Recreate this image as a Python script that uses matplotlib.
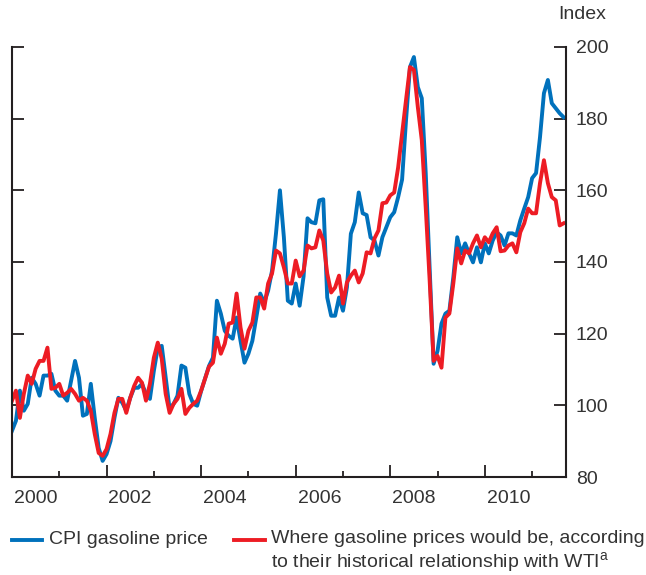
import matplotlib
matplotlib.use("Agg")
import matplotlib.pyplot as plt
from matplotlib.lines import Line2D
import numpy as np

plt.rcParams['font.family'] = ['Liberation Sans', 'DejaVu Sans']
plt.rcParams['mathtext.fontset'] = 'custom'
plt.rcParams['mathtext.rm'] = 'Liberation Sans'

# monthly index values, Jan 2000 .. Sep 2011
cpi_gasoline = [
    92.9, 95.7, 104.1, 98.5, 100.4, 107.7, 106, 102.7, 108.3, 108.3, 108.8, 104.1,
    102.7, 102.7, 101.3, 106.9, 112.4, 107.7, 97.1, 97.6, 106, 96.5, 88.1, 84.5,
    86.4, 90, 96.5, 102.1, 100.7, 98.5, 102.1, 104.9, 104.9, 106, 103.2, 101.8,
    109.6, 116.1, 116.6, 107.7, 99, 100.4, 102.7, 111.1, 110.5, 103.2, 100.4, 99.9,
    104, 107.5, 111, 113.3, 129.2, 125.6, 120.8, 119.4, 118.6, 124.5, 118, 111.9,
    114.4, 118, 124.5, 131.2, 128.7, 132, 137.6, 148, 160, 146.9, 129.2, 128.4,
    134, 127.8, 136, 152.2, 151.1, 150.8, 157.2, 157.5, 130.1, 125, 125, 130.1,
    126.4, 132.9, 147.9, 151.1, 159.4, 153.6, 153.1, 146.9, 146, 141.8, 146.9, 149.7,
    152.5, 153.9, 158.1, 163, 179.6, 194.4, 197.2, 188.8, 185.7, 164.8, 138.5, 111.6,
    115.2, 122.8, 125.6, 126.4, 135.7, 146.9, 142.4, 145.2, 142.4, 139.9, 144.1, 139.9,
    145.2, 142.4, 146, 148.3, 147.4, 144.6, 148, 148, 147.4, 151.6, 154.9, 158.1,
    163.4, 164.8, 174.8, 187.1, 190.8, 184.3, 182.9, 181.5, 180.4,
]
wti_implied = [
    101.3, 104.1, 96.5, 103.2, 108.3, 106, 110.2, 112.4, 112.4, 116.1, 104.6, 104.9,
    106, 102.7, 103.5, 104.6, 103.2, 101.3, 102.1, 101.3, 98.5, 92, 86.7, 85.9,
    87.8, 92, 97.9, 101.8, 101.8, 97.9, 102.1, 105.4, 107.7, 106.3, 101.3, 106,
    113.3, 117.5, 113, 103.2, 97.9, 100.4, 101.8, 104.6, 97.6, 99.3, 100.4, 101.3,
    104.1, 107.5, 110.8, 111.9, 118.9, 114.4, 117.2, 122.8, 123.1, 131.2, 121.7, 115.8,
    120.8, 123.1, 130.1, 130.1, 127, 134, 136.8, 143.2, 142.4, 138.5, 134, 134,
    140.4, 136, 137.6, 144.6, 143.8, 144.1, 148.8, 146, 136.8, 131.5, 132.9, 136.2,
    128.4, 134.3, 136.2, 137.6, 134.3, 136.8, 142.7, 142.4, 146.6, 148.8, 156.4, 156.6,
    158.6, 159.4, 166.4, 175.9, 185.2, 194.4, 193.6, 183.2, 174, 155.2, 134.8, 112.4,
    113.8, 110.5, 124.5, 125.6, 134, 143.8, 139.6, 143.2, 142.4, 145.2, 147.4, 144.1,
    146.9, 145.5, 148, 149.7, 143, 143.2, 144.6, 145.2, 142.7, 148.3, 150.8, 154.9,
    153.6, 153.6, 162, 168.4, 162, 158.1, 157.2, 150.2, 150.8,
]
years = [2000, 2002, 2004, 2006, 2008, 2010]
y_ticks = [80, 100, 120, 140, 160, 180, 200]

blue = '#0071bc'
red = '#ed1c24'
dark = '#231f20'
txt = '#333333'
fs = 14

months = np.arange(len(cpi_gasoline))

fig = plt.figure(figsize=(6.46, 5.75), dpi=100)
ax = fig.add_axes([12/646, 1 - 477/575, (566 - 12)/646, (477 - 47)/575])

ax.plot(months, cpi_gasoline, color=blue, lw=2.8, solid_joinstyle='round')
ax.plot(months, wti_implied, color=red, lw=2.8, solid_joinstyle='round')

ax.set_xlim(0, 140.6)
ax.set_ylim(80, 200)

for s in ['left', 'right', 'bottom']:
    ax.spines[s].set_color(dark)
    ax.spines[s].set_linewidth(1.5)
ax.spines['top'].set_visible(False)

ax.set_yticks(y_ticks)
ax.yaxis.set_ticks_position('both')
ax.tick_params(axis='y', direction='in', length=8.5, width=1.3, color=dark,
               labelleft=False, labelright=True, labelsize=fs, labelcolor=txt, pad=7)

# year boundaries: long ticks on even years, short on odd years
ax.set_xticks([(y - 2000) * 12 for y in years[1:]])
ax.set_xticks([(y - 2000) * 12 for y in range(2001, 2012, 2)], minor=True)
ax.tick_params(axis='x', which='major', direction='in', length=8.5, width=1.3,
               color=dark, labelbottom=False)
ax.tick_params(axis='x', which='minor', direction='in', length=4.5, width=1.3,
               color=dark)
for y in years:
    ax.text((y - 2000) * 12 + 6, -0.03, str(y), transform=ax.get_xaxis_transform(),
            ha='center', va='top', fontsize=fs, color=txt)

ax.text(1.03, 1.055, 'Index', transform=ax.transAxes, ha='center', va='bottom',
        fontsize=fs, color=txt)

# legend
ly = 1 - 540/575
fig.add_artist(Line2D([12/646, 42/646], [ly, ly], color=blue, lw=2.8,
                      transform=fig.transFigure))
fig.text(49/646, ly, 'CPI gasoline price', ha='left', va='center', fontsize=fs,
         color=txt)
fig.add_artist(Line2D([234/646, 265/646], [ly, ly], color=red, lw=2.8,
                      transform=fig.transFigure))
fig.text(271/646, 1 - 530/575,
         'Where gasoline prices would be, according\nto their historical relationship with WTI$^{\\mathrm{a}}$',
         ha='left', va='top', fontsize=fs, color=txt, linespacing=1.2)

fig.savefig('out.png', dpi=100)
